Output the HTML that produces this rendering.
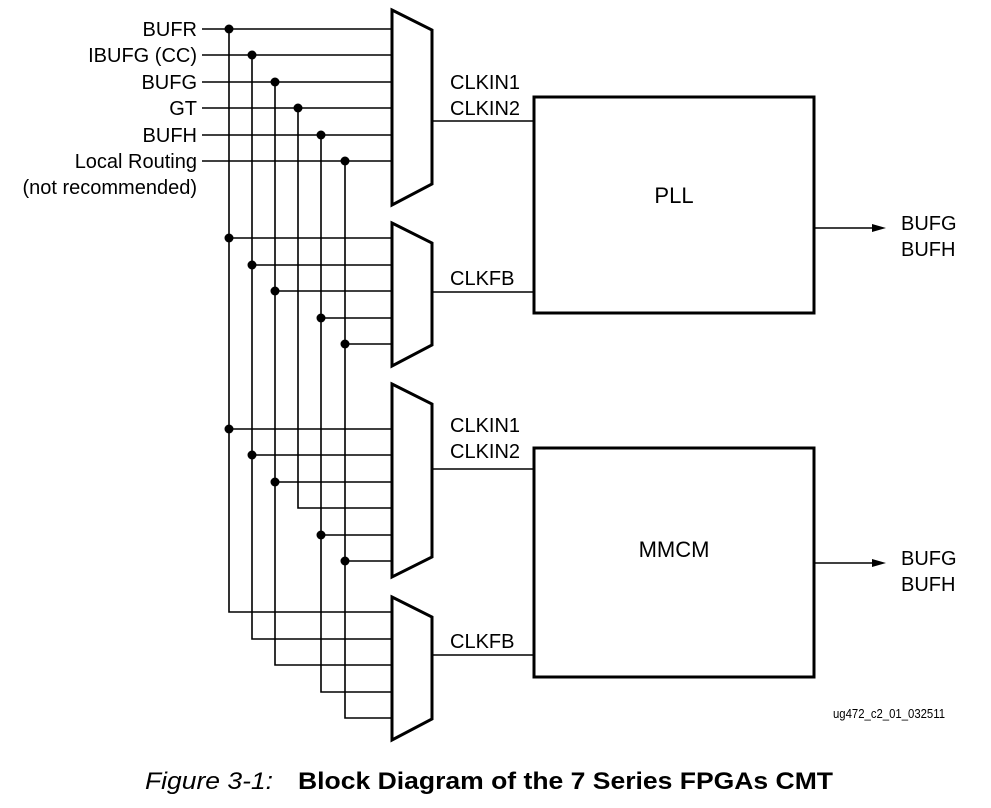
<!DOCTYPE html>
<html><head><meta charset="utf-8"><style>
html,body{margin:0;padding:0;background:#fff;}
svg{display:block;}
text{font-family:"Liberation Sans",Arial,sans-serif;fill:#000;}
</style></head><body>
<svg width="991" height="808" viewBox="0 0 991 808" xmlns="http://www.w3.org/2000/svg">
<g font-size="20" text-anchor="end">
<text x="197" y="36">BUFR</text>
<text x="197" y="62">IBUFG (CC)</text>
<text x="197" y="89">BUFG</text>
<text x="197" y="115">GT</text>
<text x="197" y="142">BUFH</text>
<text x="197" y="168">Local Routing</text>
<text x="197" y="194">(not recommended)</text>
</g>
<g stroke="#000" stroke-width="1.6" fill="none">
<line x1="202" y1="29" x2="392" y2="29"/>
<line x1="202" y1="55" x2="392" y2="55"/>
<line x1="202" y1="82" x2="392" y2="82"/>
<line x1="202" y1="108" x2="392" y2="108"/>
<line x1="202" y1="135" x2="392" y2="135"/>
<line x1="202" y1="161" x2="392" y2="161"/>
<polyline points="229,29 229,612 392,612"/>
<polyline points="252,55 252,639 392,639"/>
<polyline points="275,82 275,665 392,665"/>
<polyline points="298,108 298,508 392,508"/>
<polyline points="321,135 321,692 392,692"/>
<polyline points="345,161 345,718 392,718"/>
<line x1="229" y1="238" x2="392" y2="238"/>
<line x1="252" y1="265" x2="392" y2="265"/>
<line x1="275" y1="291" x2="392" y2="291"/>
<line x1="321" y1="318" x2="392" y2="318"/>
<line x1="345" y1="344" x2="392" y2="344"/>
<line x1="229" y1="429" x2="392" y2="429"/>
<line x1="252" y1="455" x2="392" y2="455"/>
<line x1="275" y1="482" x2="392" y2="482"/>
<line x1="321" y1="535" x2="392" y2="535"/>
<line x1="345" y1="561" x2="392" y2="561"/>
<line x1="432" y1="121" x2="534" y2="121"/>
<line x1="432" y1="292" x2="534" y2="292"/>
<line x1="432" y1="469" x2="534" y2="469"/>
<line x1="432" y1="655" x2="534" y2="655"/>
<line x1="814" y1="228" x2="874" y2="228"/>
<line x1="814" y1="563" x2="874" y2="563"/>
</g>
<g stroke="#000" stroke-width="3" fill="#fff">
<polygon points="392,10 432,30 432,184 392,205"/>
<polygon points="392,223 432,243 432,345 392,366"/>
<polygon points="392,384 432,404 432,557 392,577"/>
<polygon points="392,597 432,617 432,719 392,740"/>
<rect x="534" y="97" width="280" height="216"/>
<rect x="534" y="448" width="280" height="229"/>
</g>
<g fill="#000">
<polygon points="886,228 872,224 872,232"/>
<polygon points="886,563 872,559 872,567"/>
<circle cx="229" cy="29" r="4.5"/><circle cx="252" cy="55" r="4.5"/><circle cx="275" cy="82" r="4.5"/>
<circle cx="298" cy="108" r="4.5"/><circle cx="321" cy="135" r="4.5"/><circle cx="345" cy="161" r="4.5"/>
<circle cx="229" cy="238" r="4.5"/><circle cx="252" cy="265" r="4.5"/><circle cx="275" cy="291" r="4.5"/>
<circle cx="321" cy="318" r="4.5"/><circle cx="345" cy="344" r="4.5"/>
<circle cx="229" cy="429" r="4.5"/><circle cx="252" cy="455" r="4.5"/><circle cx="275" cy="482" r="4.5"/>
<circle cx="321" cy="535" r="4.5"/><circle cx="345" cy="561" r="4.5"/>
</g>
<g font-size="20">
<text x="450" y="89">CLKIN1</text>
<text x="450" y="115">CLKIN2</text>
<text x="450" y="285">CLKFB</text>
<text x="450" y="432">CLKIN1</text>
<text x="450" y="458">CLKIN2</text>
<text x="450" y="648">CLKFB</text>
<text x="674" y="203" text-anchor="middle" font-size="22">PLL</text>
<text x="674" y="557" text-anchor="middle" font-size="22">MMCM</text>
<text x="901" y="230">BUFG</text>
<text x="901" y="256">BUFH</text>
<text x="901" y="565">BUFG</text>
<text x="901" y="591">BUFH</text>
</g>
<text x="833" y="718" font-size="13" textLength="112" lengthAdjust="spacingAndGlyphs">ug472_c2_01_032511</text>
<text x="145" y="789" font-size="24" font-style="italic" textLength="128" lengthAdjust="spacingAndGlyphs">Figure 3-1:</text>
<text x="298" y="789" font-size="24" font-weight="bold" textLength="535" lengthAdjust="spacingAndGlyphs">Block Diagram of the 7 Series FPGAs CMT</text>
</svg>
</body></html>
